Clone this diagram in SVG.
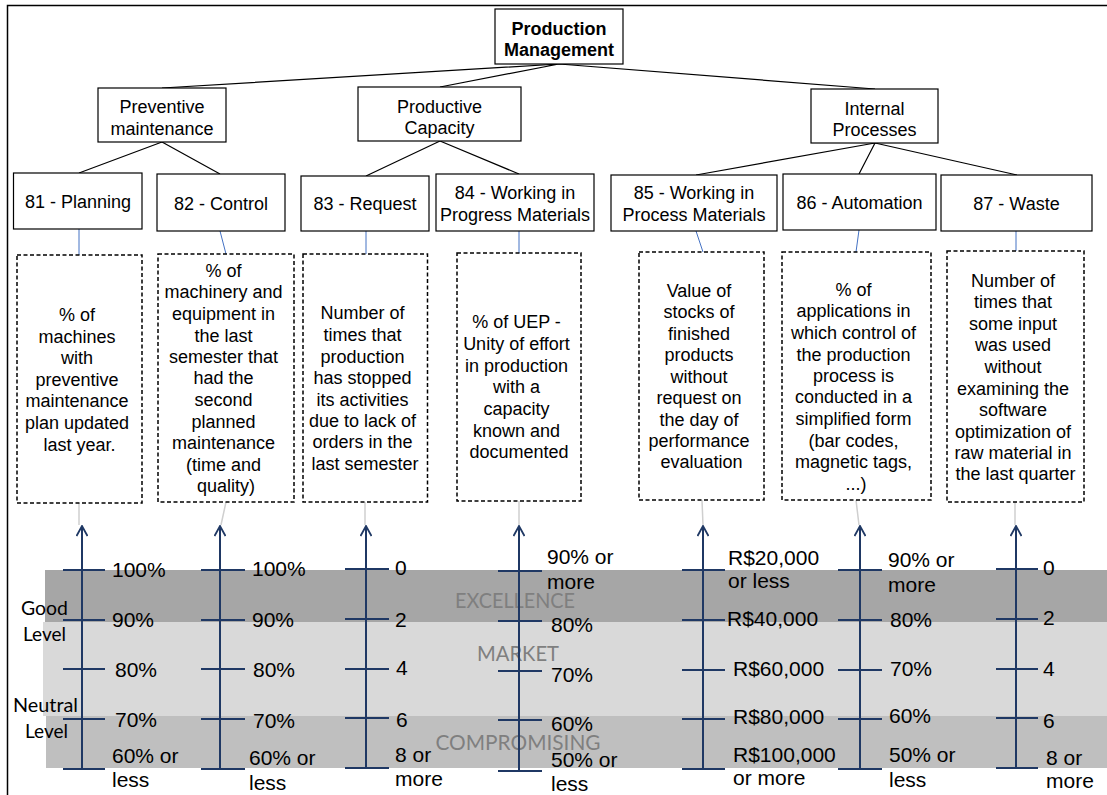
<svg xmlns="http://www.w3.org/2000/svg" width="1107" height="795" viewBox="0 0 1107 795">
  <defs>
    <style>
      .box { fill: #fff; stroke: #000; stroke-width: 1.2; }
      .dash { fill: #fff; stroke: #000; stroke-width: 1.5; stroke-dasharray: 4 2.5; }
      .t { font-family: "Liberation Sans", Arial, sans-serif; font-size: 18px; text-anchor: middle; fill: #000; }
      .tb { font-weight: bold; }
      .link { stroke: #000; stroke-width: 1.2; fill: none; }
      .blue { stroke: #4472c4; stroke-width: 1; fill: none; }
      .gray { stroke: #cfcfcf; stroke-width: 1.5; fill: none; }
      .axis { stroke: #1f3864; stroke-width: 2; fill: none; }
      .sl { font-family: "Liberation Sans", Arial, sans-serif; font-size: 21px; fill: #000; }
      .band { font-family: Lato, "Open Sans", sans-serif; font-size: 22px; fill: #7f7f7f; text-anchor: middle; }
      .lvl { font-family: Lato, "Open Sans", sans-serif; font-size: 19px; fill: #000; }
    </style>
    <!-- open chevron head for the scale axes -->
    <marker id="open" viewBox="0 0 12 12" refX="10.5" refY="6" markerWidth="12" markerHeight="12" markerUnits="userSpaceOnUse" orient="auto">
      <path d="M0.5,0.5 L10.5,6 L0.5,11.5" fill="none" stroke="#1f3864" stroke-width="1.8"/>
    </marker>
  </defs>

  <rect width="1107" height="795" fill="#fff"/>
  <!-- outer frame -->
  <path d="M7.5,795 V5.5 H1107" fill="none" stroke="#000" stroke-width="1.5"/>

  <!-- performance bands -->
  <g id="bands">
    <rect x="45" y="570" width="1062" height="52" fill="#a6a6a6"/>
    <rect x="43" y="622" width="1064" height="94" fill="#d9d9d9"/>
    <rect x="46" y="716" width="1061" height="52" fill="#bfbfbf"/>
    <text class="band" x="515" y="608" textLength="120" lengthAdjust="spacingAndGlyphs">EXCELLENCE</text>
    <text class="band" x="518" y="661" textLength="82" lengthAdjust="spacingAndGlyphs">MARKET</text>
    <text class="band" x="518" y="750" textLength="165" lengthAdjust="spacingAndGlyphs">COMPROMISING</text>
    <text class="lvl" x="21" y="615" textLength="47" lengthAdjust="spacingAndGlyphs">Good</text>
    <text class="lvl" x="23" y="641" textLength="43" lengthAdjust="spacingAndGlyphs">Level</text>
    <text class="lvl" x="13" y="712" textLength="65" lengthAdjust="spacingAndGlyphs">Neutral</text>
    <text class="lvl" x="25" y="738" textLength="43" lengthAdjust="spacingAndGlyphs">Level</text>
  </g>

  <!-- connectors -->
  <g id="connectors">
    <path class="link" d="M559,64 L162,88 M559,64 L440,87 M559,64 L875,89"/>
    <path class="link" d="M162,142 L79,173 M162,142 L220,174"/>
    <path class="link" d="M440,141 L366,176 M440,141 L519,174"/>
    <path class="link" d="M875,143 L696,175 M875,143 L859,174 M875,143 L1017,175"/>
    <path class="blue" d="M79,229 V255 M220,231 L226,254 M366,231 V254 M519,231 V253 M696,231 L703,252 M859,230 L856,252 M1016,231 V251"/>
    <path class="gray" d="M79,503 V525 M226,502 L221,525 M365,502 V525 M519,501 V525 M702,500 L703,525 M856,500 L859,525 M1015,502 V525"/>
  </g>

  <!-- root -->
  <g id="production-management">
    <rect class="box" x="495" y="9" width="128" height="55"/>
    <text class="t tb" x="559" y="35">Production</text>
    <text class="t tb" x="559" y="56">Management</text>
  </g>

  <!-- second level -->
  <g id="preventive-maintenance">
    <rect class="box" x="98" y="88" width="128" height="54"/>
    <text class="t" x="162" y="113">Preventive</text>
    <text class="t" x="162" y="135">maintenance</text>
  </g>
  <g id="productive-capacity">
    <rect class="box" x="358" y="87" width="163" height="54"/>
    <text class="t" x="439.5" y="113">Productive</text>
    <text class="t" x="439.5" y="134">Capacity</text>
  </g>
  <g id="internal-processes">
    <rect class="box" x="811" y="89" width="127" height="54"/>
    <text class="t" x="874.5" y="115">Internal</text>
    <text class="t" x="874.5" y="136">Processes</text>
  </g>

  <!-- indicators -->
  <g id="ind-81">
    <rect class="box" x="13.5" y="173" width="128.5" height="56"/>
    <text class="t" x="78" y="208">81 - Planning</text>
  </g>
  <g id="ind-82">
    <rect class="box" x="157" y="174" width="128" height="57"/>
    <text class="t" x="221" y="210">82 - Control</text>
  </g>
  <g id="ind-83">
    <rect class="box" x="301" y="176" width="128" height="55"/>
    <text class="t" x="365" y="210">83 - Request</text>
  </g>
  <g id="ind-84">
    <rect class="box" x="436" y="174" width="158" height="57"/>
    <text class="t" x="515" y="199">84 - Working in</text>
    <text class="t" x="515" y="221">Progress Materials</text>
  </g>
  <g id="ind-85">
    <rect class="box" x="611" y="175" width="166" height="56"/>
    <text class="t" x="694" y="199">85 - Working in</text>
    <text class="t" x="694" y="221">Process Materials</text>
  </g>
  <g id="ind-86">
    <rect class="box" x="783" y="174" width="153" height="56"/>
    <text class="t" x="859.5" y="209">86 - Automation</text>
  </g>
  <g id="ind-87">
    <rect class="box" x="941" y="175" width="151" height="56"/>
    <text class="t" x="1016.5" y="210">87 - Waste</text>
  </g>

  <!-- descriptors -->
  <g id="desc-81">
    <rect class="dash" x="17" y="255" width="125" height="248"/>
    <text class="t">
      <tspan x="79.5" y="321">% of</tspan>
      <tspan x="79.5" y="343">machines</tspan>
      <tspan x="79.5" y="364">with</tspan>
      <tspan x="79.5" y="386">preventive</tspan>
      <tspan x="79.5" y="407">maintenance</tspan>
      <tspan x="79.5" y="429">plan updated</tspan>
      <tspan x="79.5" y="451">last year.</tspan>
    </text>
  </g>
  <g id="desc-82">
    <rect class="dash" x="158" y="254" width="136" height="248"/>
    <text class="t">
      <tspan x="226" y="277">% of</tspan>
      <tspan x="226" y="298">machinery and</tspan>
      <tspan x="226" y="320">equipment in</tspan>
      <tspan x="226" y="342">the last</tspan>
      <tspan x="226" y="363">semester that</tspan>
      <tspan x="226" y="384">had the</tspan>
      <tspan x="226" y="406">second</tspan>
      <tspan x="226" y="428">planned</tspan>
      <tspan x="226" y="449">maintenance</tspan>
      <tspan x="226" y="471">(time and</tspan>
      <tspan x="226" y="492">quality)</tspan>
    </text>
  </g>
  <g id="desc-83">
    <rect class="dash" x="303" y="254" width="124.5" height="248"/>
    <text class="t">
      <tspan x="365" y="319">Number of</tspan>
      <tspan x="365" y="341">times that</tspan>
      <tspan x="365" y="363">production</tspan>
      <tspan x="365" y="384">has stopped</tspan>
      <tspan x="365" y="406">its activities</tspan>
      <tspan x="365" y="427">due to lack of</tspan>
      <tspan x="365" y="448">orders in the</tspan>
      <tspan x="365" y="470">last semester</tspan>
    </text>
  </g>
  <g id="desc-84">
    <rect class="dash" x="457" y="253" width="124" height="248"/>
    <text class="t">
      <tspan x="519" y="328">% of UEP -</tspan>
      <tspan x="519" y="350">Unity of effort</tspan>
      <tspan x="519" y="372">in production</tspan>
      <tspan x="519" y="393">with a</tspan>
      <tspan x="519" y="415">capacity</tspan>
      <tspan x="519" y="437">known and</tspan>
      <tspan x="519" y="458">documented</tspan>
    </text>
  </g>
  <g id="desc-85">
    <rect class="dash" x="639" y="252" width="125" height="248"/>
    <text class="t">
      <tspan x="701.5" y="297">Value of</tspan>
      <tspan x="701.5" y="318">stocks of</tspan>
      <tspan x="701.5" y="340">finished</tspan>
      <tspan x="701.5" y="361">products</tspan>
      <tspan x="701.5" y="383">without</tspan>
      <tspan x="701.5" y="404">request on</tspan>
      <tspan x="701.5" y="426">the day of</tspan>
      <tspan x="701.5" y="447">performance</tspan>
      <tspan x="701.5" y="468">evaluation</tspan>
    </text>
  </g>
  <g id="desc-86">
    <rect class="dash" x="782" y="252" width="149" height="248"/>
    <text class="t">
      <tspan x="856" y="296">% of</tspan>
      <tspan x="856" y="317">applications in</tspan>
      <tspan x="856" y="339">which control of</tspan>
      <tspan x="856" y="361">the production</tspan>
      <tspan x="856" y="382">process is</tspan>
      <tspan x="856" y="403">conducted in a</tspan>
      <tspan x="856" y="425">simplified form</tspan>
      <tspan x="856" y="447">(bar codes,</tspan>
      <tspan x="856" y="468">magnetic tags,</tspan>
      <tspan x="856" y="490">...)</tspan>
    </text>
  </g>
  <g id="desc-87">
    <rect class="dash" x="947" y="251" width="137" height="251"/>
    <text class="t">
      <tspan x="1015.5" y="287">Number of</tspan>
      <tspan x="1015.5" y="308">times that</tspan>
      <tspan x="1015.5" y="330">some input</tspan>
      <tspan x="1015.5" y="351">was used</tspan>
      <tspan x="1015.5" y="373">without</tspan>
      <tspan x="1015.5" y="395">examining the</tspan>
      <tspan x="1015.5" y="416">software</tspan>
      <tspan x="1015.5" y="438">optimization of</tspan>
      <tspan x="1015.5" y="459">raw material in</tspan>
      <tspan x="1015.5" y="480">the last quarter</tspan>
    </text>
  </g>

  <!-- scales -->
  <g id="scale-81">
    <path class="axis" d="M82,769 V526" marker-end="url(#open)"/>
    <path class="axis" d="M63,570 H105 M63,620 H105 M63,669 H105 M63,719 H105 M63,769 H105"/>
    <text class="sl" x="112" y="577">100%</text>
    <text class="sl" x="112" y="627">90%</text>
    <text class="sl" x="115" y="677">80%</text>
    <text class="sl" x="115" y="727">70%</text>
    <text class="sl" x="112" y="763">60% or</text>
    <text class="sl" x="112" y="787">less</text>
  </g>
  <g id="scale-82">
    <path class="axis" d="M220,769 V526" marker-end="url(#open)"/>
    <path class="axis" d="M201,570 H245 M201,620 H245 M201,669 H245 M201,719 H245 M201,769 H245"/>
    <text class="sl" x="252" y="576">100%</text>
    <text class="sl" x="252" y="627">90%</text>
    <text class="sl" x="253" y="677">80%</text>
    <text class="sl" x="253" y="728">70%</text>
    <text class="sl" x="249" y="765">60% or</text>
    <text class="sl" x="249" y="790">less</text>
  </g>
  <g id="scale-83">
    <path class="axis" d="M366,769 V526" marker-end="url(#open)"/>
    <path class="axis" d="M345,569 H389 M345,619 H389 M345,669 H389 M345,718 H389 M345,768 H389"/>
    <text class="sl" x="395" y="575">0</text>
    <text class="sl" x="395" y="627">2</text>
    <text class="sl" x="396" y="675">4</text>
    <text class="sl" x="396" y="727">6</text>
    <text class="sl" x="395" y="762">8 or</text>
    <text class="sl" x="395" y="786">more</text>
  </g>
  <g id="scale-84">
    <path class="axis" d="M519,771 V526" marker-end="url(#open)"/>
    <path class="axis" d="M498,571 H542 M498,621 H542 M498,671 H542 M498,720 H542 M498,771 H542"/>
    <text class="sl" x="547" y="564">90% or</text>
    <text class="sl" x="547" y="589">more</text>
    <text class="sl" x="551" y="632">80%</text>
    <text class="sl" x="551" y="682">70%</text>
    <text class="sl" x="551" y="731">60%</text>
    <text class="sl" x="551" y="767">50% or</text>
    <text class="sl" x="551" y="791">less</text>
  </g>
  <g id="scale-85">
    <path class="axis" d="M703,769 V526" marker-end="url(#open)"/>
    <path class="axis" d="M682,570 H725 M682,620 H725 M682,670 H725 M682,719 H725 M682,769 H725"/>
    <text class="sl" x="728" y="565">R$20,000</text>
    <text class="sl" x="728" y="588">or less</text>
    <text class="sl" x="727" y="626">R$40,000</text>
    <text class="sl" x="733" y="676">R$60,000</text>
    <text class="sl" x="733" y="724">R$80,000</text>
    <text class="sl" x="733" y="762">R$100,000</text>
    <text class="sl" x="733" y="785">or more</text>
  </g>
  <g id="scale-86">
    <path class="axis" d="M860,769 V526" marker-end="url(#open)"/>
    <path class="axis" d="M838,570 H882 M838,620 H882 M838,670 H882 M838,719 H882 M838,769 H882"/>
    <text class="sl" x="888" y="567">90% or</text>
    <text class="sl" x="888" y="592">more</text>
    <text class="sl" x="890" y="627">80%</text>
    <text class="sl" x="890" y="676">70%</text>
    <text class="sl" x="889" y="723">60%</text>
    <text class="sl" x="889" y="762">50% or</text>
    <text class="sl" x="889" y="787">less</text>
  </g>
  <g id="scale-87">
    <path class="axis" d="M1016,768 V526" marker-end="url(#open)"/>
    <path class="axis" d="M996,569 H1038 M996,619 H1038 M996,669 H1038 M996,718 H1038 M996,768 H1038"/>
    <text class="sl" x="1043" y="575">0</text>
    <text class="sl" x="1043" y="625">2</text>
    <text class="sl" x="1043" y="676">4</text>
    <text class="sl" x="1043" y="728">6</text>
    <text class="sl" x="1046" y="765">8 or</text>
    <text class="sl" x="1046" y="788">more</text>
  </g>
</svg>
